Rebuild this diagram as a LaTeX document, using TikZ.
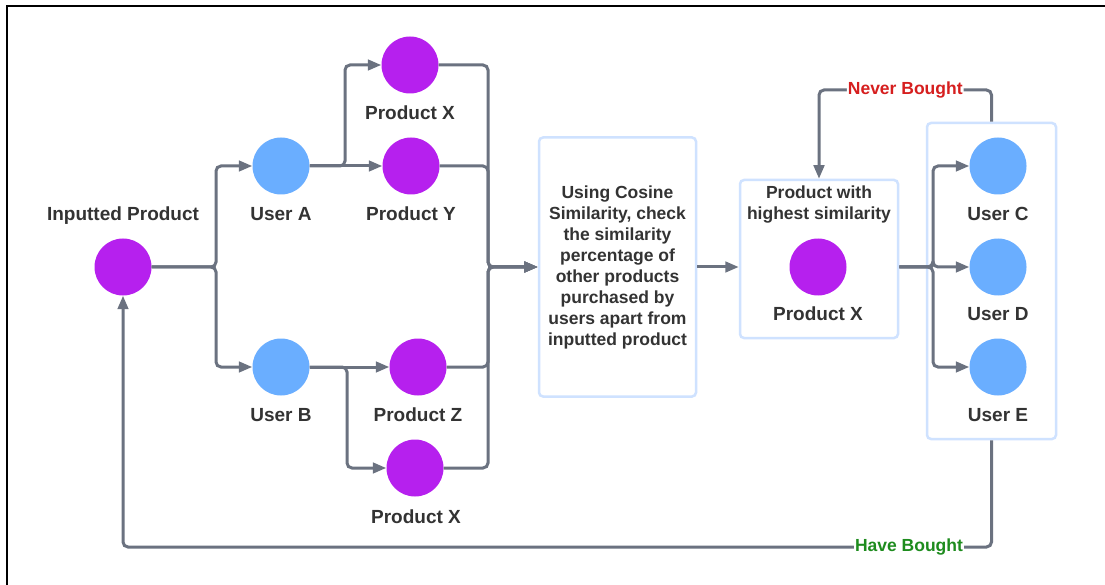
\documentclass[tikz,border=0pt]{standalone}
\usepackage{fontspec}
\setmainfont{Liberation Sans}
\usetikzlibrary{arrows.meta}
\definecolor{prod}{HTML}{B620EE}
\definecolor{usr}{HTML}{6AAEFF}
\definecolor{lin}{HTML}{6B7280}
\definecolor{bx}{HTML}{CFE2FF}
\definecolor{txt}{HTML}{333333}
\definecolor{nbred}{HTML}{D61F1F}
\definecolor{hbgreen}{HTML}{1E8C1E}
\begin{document}
\begin{tikzpicture}[x=1pt,y=-1pt,
 prodc/.style={circle,fill=prod,minimum size=57pt,inner sep=0pt},
 userc/.style={circle,fill=usr,minimum size=57pt,inner sep=0pt},
 lbl/.style={font=\fontsize{19}{21}\selectfont\bfseries,text=txt,anchor=base,inner sep=0pt},
 boxtext/.style={font=\fontsize{17.5}{21}\selectfont\bfseries,text=txt,align=center},
 panel/.style={draw=bx,line width=2.5pt,rounded corners=4pt,fill=white,inner sep=0pt},
 conn/.style={draw=lin,line width=3pt,rounded corners=5pt},
 arr/.style={conn,-{Triangle[length=13.5pt,width=10.5pt]}},
 tag/.style={fill=white,inner sep=1pt,font=\fontsize{17.5}{21}\selectfont\bfseries},
]
\useasboundingbox (0,0) rectangle (1105,585);
\fill[white] (0,0) rectangle (1105,585);
\draw[line width=2.7pt,black] (7,585) -- (7,6) -- (1105,6);

% panels
\node[panel,boxtext,minimum width=157pt,minimum height=259pt] (b1) at (617.5,267)
 {Using Cosine\\Similarity, check\\the similarity\\percentage of\\other products\\purchased by\\users apart from\\inputted product};
\node[panel,minimum width=158pt,minimum height=158pt] (b2) at (819,259) {};
\node[panel,minimum width=129pt,minimum height=316pt] (b3) at (991.5,281) {};

% left part
\node[prodc] (inp) at (123,267) {};
\node[lbl] (linp) at (123,220.8) {Inputted Product};
\node[userc] (ua) at (281,166) {};
\node[lbl] (lua) at (281,220.8) {User A};
\node[prodc] (px1) at (410,65) {};
\node[lbl] (lpx1) at (410,119.8) {Product X};
\node[prodc] (py) at (411,166) {};
\node[lbl] (lpy) at (411,220.8) {Product Y};
\node[userc] (ub) at (281,367) {};
\node[lbl] (lub) at (281,421.8) {User B};
\node[prodc] (pz) at (418,367) {};
\node[lbl] (lpz) at (418,421.8) {Product Z};
\node[prodc] (px2) at (415,468) {};
\node[lbl] (lpx2) at (416,523.8) {Product X};

% box 2 content
\node[boxtext,anchor=north,inner sep=0pt] (b2t) at (819,185.7) {Product with\\highest similarity};
\node[prodc] (px3) at (818,267) {};
\node[lbl] (lpx3) at (818,320.8) {Product X};

% users
\node[userc] (uc) at (998,166) {};
\node[lbl] (luc) at (998,220.8) {User C};
\node[userc] (ud) at (998,267) {};
\node[lbl] (lud) at (998,320.8) {User D};
\node[userc] (ue) at (998,367) {};
\node[lbl] (lue) at (998,421.8) {User E};

% junctions
\coordinate (j1) at (216,267);
\coordinate (j2) at (345,166);
\coordinate (j3) at (347,367);
\coordinate (j4) at (488,267);
\coordinate (j5) at (933,267);
\coordinate (nb1) at (991.5,90);
\coordinate (nb2) at (819,90);
\coordinate (hb1) at (991.5,547);
\coordinate (hb2) at (123,547);

% connectors
\draw[arr] (inp.east) -- (j1) |- (ua.west);
\draw[arr] (inp.east) -- (j1) |- (ub.west);
\draw[arr] (ua.east) -- (py.west);
\draw[arr] (ua.east) -- (j2) |- (px1.west);
\draw[arr] (ub.east) -- (pz.west);
\draw[arr] (ub.east) -- (j3) |- (px2.west);
\draw[arr] (px1.east) -| (j4) -- (b1.west);
\draw[arr] (py.east) -| (j4) -- (b1.west);
\draw[arr] (pz.east) -| (j4) -- (b1.west);
\draw[arr] (px2.east) -| (j4) -- (b1.west);
\draw[arr] (b1.east) -- (b1.east -| b2.west);
\draw[arr] (px3 -| b2.east) -- (j5) |- (uc.west);
\draw[arr] (px3 -| b2.east) -- (j5) |- (ud.west);
\draw[arr] (px3 -| b2.east) -- (j5) |- (ue.west);
\draw[arr] (b3.north) -- (nb1) -- node[tag,text=nbred] (nbt) {Never Bought} (nb2) -- (b2.north);
\draw[arr] (b3.south) -- (hb1) -- node[tag,text=hbgreen,pos=0.095] (hbt) {Have Bought} (hb2) -- (inp.south);
\end{tikzpicture}
\end{document}
